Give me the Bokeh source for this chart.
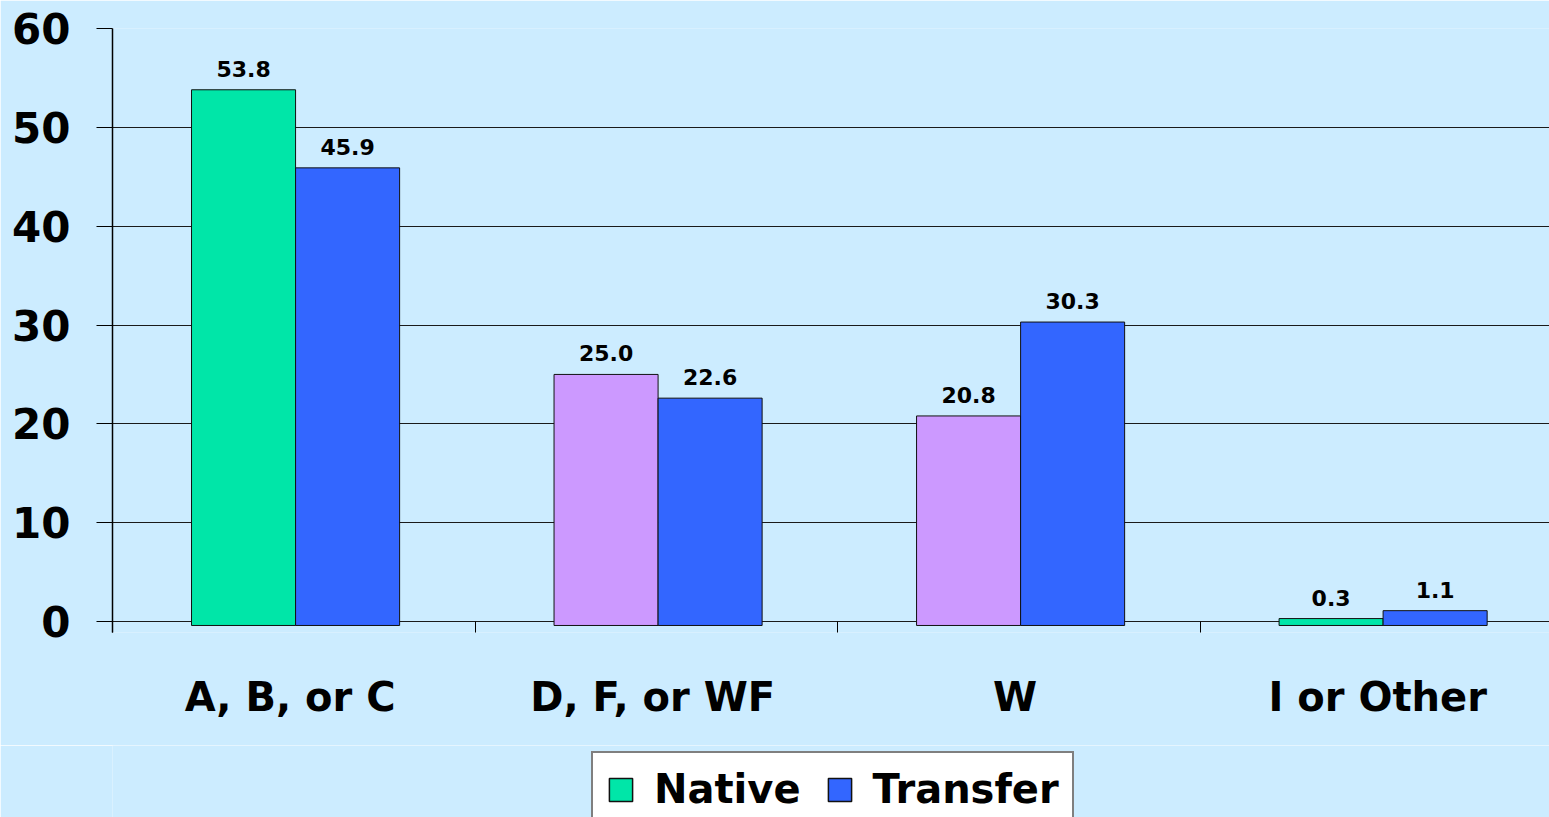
from bokeh.plotting import figure
from bokeh.layouts import column
from bokeh.models import (ColumnDataSource, Range1d, FixedTicker, Legend, LegendItem)
from bokeh.embed import file_html
from bokeh.resources import INLINE
from bokeh.core.properties import value

# ---- data ----
categories = ["A, B, or C", "D, F, or WF", "W", "I or Other"]
native = [53.8, 25.0, 20.8, 0.3]
transfer = [45.9, 22.6, 30.3, 1.1]
native_colors = ["#00E6A8", "#CC99FF", "#CC99FF", "#00E6A8"]
transfer_color = "#3366FF"
y_ticks = [0, 10, 20, 30, 40, 50, 60]

BG = "#CCECFF"
FONT = "DejaVu Sans"

group_center = 0.505
dodge = 0.1435
bar_w = 0.287

idx = list(range(len(categories)))
native_x = [i + group_center - dodge for i in idx]
transfer_x = [i + group_center + dodge for i in idx]

src_n = ColumnDataSource(dict(x=native_x, top=native, color=native_colors,
                              label=[f"{v:.1f}" for v in native]))
src_t = ColumnDataSource(dict(x=transfer_x, top=transfer,
                              label=[f"{v:.1f}" for v in transfer]))

H1 = 745
p = figure(width=1549, height=H1, output_backend="svg", toolbar_location=None,
           x_range=Range1d(0, 3.964), y_range=Range1d(-1.11, 60),
           min_border_left=112, min_border_right=0, min_border_top=28,
           min_border_bottom=H1 - 632)

p.background_fill_color = BG
p.border_fill_color = BG
p.outline_line_color = None

rn = p.vbar(x="x", top="top", bottom=-0.4, width=bar_w, fill_color="color",
            line_color="#111111", line_width=1, source=src_n)
rt = p.vbar(x="x", top="top", bottom=-0.4, width=bar_w, fill_color=transfer_color,
            line_color="#111111", line_width=1, source=src_t)

for src in (src_n, src_t):
    p.text(x="x", y="top", text="label", source=src, text_align="center",
           text_baseline="alphabetic", y_offset=-21,
           text_font=value(FONT), text_font_size="22px", text_font_style="bold",
           text_color="black")

# y axis
p.yaxis.ticker = FixedTicker(ticks=y_ticks)
p.yaxis.major_tick_out = 16
p.yaxis.major_tick_in = 0
p.yaxis.minor_tick_line_color = None
p.yaxis.major_tick_line_color = "black"
p.yaxis.axis_line_color = "black"
p.yaxis.axis_line_width = 1.5
p.yaxis.major_label_standoff = 26
p.yaxis.major_label_text_font = FONT
p.yaxis.major_label_text_font_size = "42px"
p.yaxis.major_label_text_font_style = "bold"
p.yaxis.major_label_text_color = "black"

p.ygrid.ticker = FixedTicker(ticks=y_ticks)
p.ygrid.grid_line_color = "#1a1a1a"
p.ygrid.grid_line_width = 1
p.xgrid.grid_line_color = None

# x axis: labels at centres, minor ticks at category boundaries
p.xaxis.ticker = FixedTicker(ticks=[i + 0.49 for i in idx], minor_ticks=[float(i) for i in idx])
p.xaxis.major_label_overrides = {i + 0.49: c for i, c in zip(idx, categories)}
p.xaxis.major_tick_line_color = None
p.xaxis.minor_tick_line_color = "black"
p.xaxis.minor_tick_in = 11
p.xaxis.minor_tick_out = 0
p.xaxis.axis_line_color = None
p.xaxis.major_label_standoff = 35
p.xaxis.major_label_text_font = FONT
p.xaxis.major_label_text_font_size = "40px"
p.xaxis.major_label_text_font_style = "bold"
p.xaxis.major_label_text_color = "black"

# ---- legend strip below the chart ----
H2 = 817 - H1
q = figure(width=1549, height=H2, output_backend="svg", toolbar_location=None,
           x_range=Range1d(0, 3.964), y_range=Range1d(-1.11, 60),
           x_axis_location=None, y_axis_location=None,
           min_border_left=0, min_border_right=0, min_border_top=0, min_border_bottom=0)
q.background_fill_color = BG
q.border_fill_color = BG
q.outline_line_color = None
q.grid.grid_line_color = None
ln = q.vbar(x="x", top="top", bottom=-0.4, width=bar_w, fill_color="color",
            line_color="#111111", line_width=1.5, source=src_n, visible=False)
lt = q.vbar(x="x", top="top", bottom=-0.4, width=bar_w, fill_color=transfer_color,
            line_color="#111111", line_width=1.5, source=src_t, visible=False)

legend = Legend(items=[LegendItem(label="Native", renderers=[ln], index=0),
                       LegendItem(label="Transfer", renderers=[lt], index=0)],
                location=(479, -10), orientation="horizontal")
legend.label_text_font = FONT
legend.label_text_font_size = "40px"
legend.label_text_font_style = "bold"
legend.label_text_color = "black"
legend.glyph_width = 29
legend.glyph_height = 29
legend.label_standoff = 19
legend.spacing = 24
legend.padding = 13
legend.margin = 0
legend.border_line_color = "black"
legend.border_line_width = 2
legend.background_fill_color = "white"
legend.background_fill_alpha = 1
legend.inactive_fill_alpha = 0
q.add_layout(legend)

layout = column(p, q, spacing=0)
open("out.html", "w").write(file_html(layout, INLINE))
